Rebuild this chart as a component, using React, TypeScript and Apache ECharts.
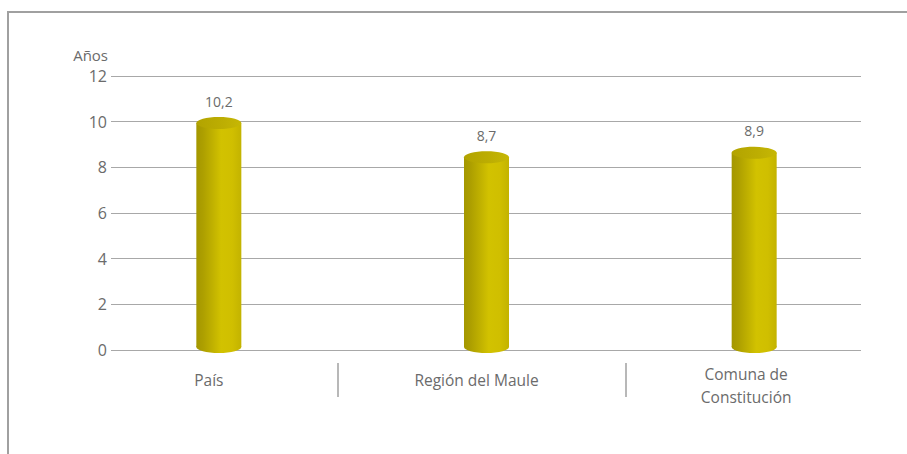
import React, { useEffect, useRef } from "react";
import * as echarts from "echarts";

const categories = ["País", "Región del Maule", "Comuna de\nConstitución"];
const values = [10.2, 8.7, 8.9];
const yTicks = { min: 0, max: 12, interval: 2 };
const yName = "Años";

const FONT = "'Open Sans', 'Noto Sans', sans-serif";
const TEXT = "#6b6b6b";

export default function App() {
  const ref = useRef<HTMLDivElement>(null);
  useEffect(() => {
    document.body.style.margin = "0";
    if (!ref.current) return;
    const chart = echarts.init(ref.current, undefined, { renderer: "svg" });
    const bodyGrad = () =>
      new echarts.graphic.LinearGradient(0, 0, 1, 0, [
        { offset: 0, color: "#a49700" },
        { offset: 0.15, color: "#ad9f00" },
        { offset: 0.35, color: "#bfb000" },
        { offset: 0.55, color: "#d2c200" },
        { offset: 0.8, color: "#d0bf00" },
        { offset: 1, color: "#c3b300" },
      ]);
    const topGrad = () =>
      new echarts.graphic.LinearGradient(0, 0, 1, 0, [
        { offset: 0, color: "#b2a300" },
        { offset: 0.6, color: "#bdae02" },
        { offset: 1, color: "#c6b705" },
      ]);
    chart.setOption({
      animation: false,
      grid: [
        { left: 111, right: 46, top: 76, bottom: 104 },
        { left: 85, right: 19, top: 76, bottom: 104 },
      ],
      xAxis: [
        {
          type: "category",
          gridIndex: 0,
          data: categories,
          axisLine: { show: false },
          axisTick: { show: false },
          axisLabel: { show: false },
        },
        {
          type: "category",
          gridIndex: 1,
          data: categories.map((c) =>
            c.includes("\n")
              ? { value: c, textStyle: { padding: [0, 16, 0, 0] } }
              : { value: c, textStyle: { padding: [6, 20, 0, 0] } }
          ),
          axisLine: { show: false },
          axisTick: { show: false },
          axisLabel: {
            margin: 12,
            color: TEXT,
            fontFamily: FONT,
            fontSize: 15.5,
            lineHeight: 23,
          },
        },
      ],
      yAxis: [
        {
          type: "value",
          gridIndex: 0,
          min: yTicks.min,
          max: yTicks.max,
          interval: yTicks.interval,
          name: yName,
          nameLocation: "end",
          nameGap: 14,
          nameTextStyle: {
            color: TEXT,
            fontFamily: FONT,
            fontSize: 15,
            align: "right",
            verticalAlign: "bottom",
            padding: [0, 3, 0, 0],
          },
          axisLine: { show: false },
          axisTick: { show: false },
          axisLabel: { margin: 4, color: TEXT, fontFamily: FONT, fontSize: 16 },
          splitLine: { show: true, lineStyle: { color: "#a8a8a8", width: 1 } },
        },
        {
          type: "value",
          gridIndex: 1,
          min: yTicks.min,
          max: yTicks.max,
          interval: yTicks.interval,
          show: false,
          splitLine: { show: false },
        },
      ],
      graphic: [
        { type: "line", shape: { x1: 8, y1: 12, x2: 907, y2: 12 }, style: { stroke: "#a0a0a0", lineWidth: 2 } },
        { type: "line", shape: { x1: 8, y1: 11, x2: 8, y2: 454 }, style: { stroke: "#a0a0a0", lineWidth: 2 } },
        { type: "line", shape: { x1: 338, y1: 363, x2: 338, y2: 397 }, style: { stroke: "#a0a0a0", lineWidth: 1.5 } },
        { type: "line", shape: { x1: 626, y1: 363, x2: 626, y2: 397 }, style: { stroke: "#a0a0a0", lineWidth: 1.5 } },
      ],
      series: [
        {
          type: "custom",
          xAxisIndex: 1,
          yAxisIndex: 1,
          data: values.map((v, i) => [i, v]),
          renderItem: (params: any, api: any) => {
            const v = api.value(1);
            const top = api.coord([api.value(0), v]);
            const base = api.coord([api.value(0), 0]);
            const w = 45;
            const ry = 6;
            const cx = top[0];
            const yTop = top[1] + ry;
            const yBot = base[1] - 3;
            return {
              type: "group",
              children: [
                { type: "ellipse", shape: { cx, cy: yBot, rx: w / 2, ry }, style: { fill: bodyGrad() } },
                { type: "rect", shape: { x: cx - w / 2, y: yTop, width: w, height: yBot - yTop }, style: { fill: bodyGrad() } },
                { type: "ellipse", shape: { cx, cy: yTop, rx: w / 2, ry }, style: { fill: topGrad() } },
                {
                  type: "text",
                  style: {
                    text: String(v).replace(".", ","),
                    x: cx,
                    y: top[1] - 9,
                    align: "center",
                    verticalAlign: "bottom",
                    fill: TEXT,
                    fontFamily: FONT,
                    fontSize: 14,
                  },
                },
              ],
            };
          },
        },
      ],
    });
    return () => chart.dispose();
  }, []);
  return <div ref={ref} style={{ width: 907, height: 454 }} />;
}
